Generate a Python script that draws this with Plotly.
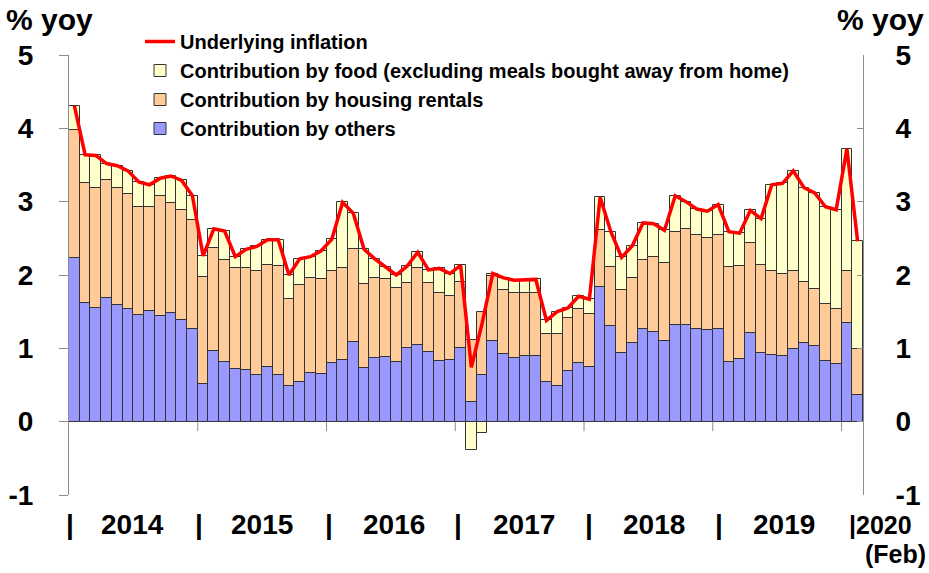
import plotly.graph_objects as go

# Monthly data, Jan 2014 .. Feb 2020 (74 months), % yoy contributions
others = [2.23, 1.62, 1.55, 1.68, 1.59, 1.54, 1.46, 1.51, 1.44, 1.48, 1.38, 1.26,
          0.52, 0.97, 0.82, 0.72, 0.70, 0.64, 0.74, 0.64, 0.48, 0.54, 0.66, 0.65,
          0.80, 0.84, 1.09, 0.73, 0.87, 0.88, 0.81, 1.01, 1.05, 0.95, 0.83, 0.84,
          1.00, 0.27, 0.64, 1.10, 0.92, 0.87, 0.89, 0.89, 0.54, 0.48, 0.69, 0.80,
          0.75, 1.84, 1.31, 0.94, 1.07, 1.26, 1.22, 1.10, 1.32, 1.32, 1.26, 1.25,
          1.26, 0.81, 0.85, 1.21, 0.93, 0.91, 0.90, 0.99, 1.07, 1.03, 0.83, 0.79,
          1.35, 0.37]
housing = [1.75, 1.63, 1.63, 1.61, 1.59, 1.56, 1.47, 1.42, 1.64, 1.50, 1.50, 1.49,
           1.45, 1.40, 1.38, 1.38, 1.40, 1.41, 1.40, 1.48, 1.19, 1.32, 1.30, 1.29,
           1.26, 1.26, 1.26, 1.15, 1.09, 1.06, 1.01, 0.88, 1.04, 0.94, 0.93, 0.88,
           0.91, 0.85, 0.86, 0.89, 0.87, 0.88, 0.86, 0.87, 0.66, 0.71, 0.73, 0.74,
           0.72, 0.77, 0.80, 0.85, 0.89, 0.95, 1.02, 1.06, 1.27, 1.31, 1.29, 1.26,
           1.29, 1.30, 1.27, 1.22, 1.20, 1.14, 1.11, 1.06, 0.83, 0.78, 0.77, 0.74,
           0.70, 0.62]
food = [0.33, 0.39, 0.45, 0.23, 0.31, 0.32, 0.34, 0.30, 0.24, 0.37, 0.41, 0.33,
        0.29, 0.26, 0.40, 0.15, 0.25, 0.34, 0.34, 0.36, 0.33, 0.36, 0.29, 0.39,
        0.43, 0.89, 0.49, 0.47, 0.26, 0.17, 0.18, 0.23, 0.22, 0.18, 0.33, 0.30,
        0.22, -0.38, -0.16, 0.03, 0.17, 0.18, 0.18, 0.18, 0.18, 0.31, 0.13, 0.17,
        0.20, 0.45, 0.48, 0.45, 0.44, 0.50, 0.46, 0.45, 0.49, 0.37, 0.35, 0.36,
        0.41, 0.48, 0.45, 0.45, 0.64, 1.18, 1.24, 1.37, 1.29, 1.31, 1.33, 1.36,
        1.67, 1.47]
underlying = [4.31, 3.64, 3.63, 3.52, 3.49, 3.42, 3.27, 3.23, 3.32, 3.35, 3.29, 3.08,
              2.26, 2.63, 2.60, 2.25, 2.35, 2.39, 2.48, 2.48, 2.00, 2.22, 2.25, 2.33,
              2.49, 2.99, 2.84, 2.35, 2.22, 2.11, 2.00, 2.12, 2.31, 2.07, 2.09, 2.02,
              2.13, 0.74, 1.34, 2.02, 1.96, 1.93, 1.93, 1.94, 1.38, 1.50, 1.55, 1.71,
              1.67, 3.06, 2.59, 2.24, 2.40, 2.71, 2.70, 2.61, 3.08, 3.00, 2.90, 2.87,
              2.96, 2.59, 2.57, 2.88, 2.77, 3.23, 3.25, 3.42, 3.19, 3.12, 2.93, 2.89,
              3.72, 2.46]
months = list(range(len(underlying)))
year_labels = ["2014", "2015", "2016", "2017", "2018", "2019"]
last_label = "|2020"
last_sub = "(Feb)"
y_ticks = [-1, 0, 1, 2, 3, 4, 5]
y_tick_text = ["-1", "0", "1", "2", "3", "4", "5"]

FONT = "Liberation Sans, Arial, sans-serif"
AXC = "#8c8c8c"
OUT = "#333333"
W, H = 929, 573
L, R, T, B = 69, 66, 55, 78
PW, PH = W - L - R, H - T - B


def px_x(p):
    return (p - L) / PW


def px_y(p):
    return (H - B - p) / PH


fig = go.Figure()
fig.add_trace(go.Bar(x=months, y=others, name="Contribution by others",
                     marker=dict(color="#9999FF", line=dict(color=OUT, width=1)),
                     legendrank=4))
fig.add_trace(go.Bar(x=months, y=housing, name="Contribution by housing rentals",
                     marker=dict(color="#FFCC99", line=dict(color=OUT, width=1)),
                     legendrank=3))
fig.add_trace(go.Bar(x=months, y=food,
                     name="Contribution by food (excluding meals bought away from home)",
                     marker=dict(color="#FFFFCC", line=dict(color=OUT, width=1)),
                     legendrank=2))
fig.add_trace(go.Scatter(x=months, y=underlying, name="Underlying inflation",
                         mode="lines", line=dict(color="#FF0000", width=3.5),
                         legendrank=1))
# invisible helper trace so the right-hand axis is drawn
fig.add_trace(go.Scatter(x=months, y=underlying, yaxis="y2", mode="lines",
                         line=dict(width=0), opacity=0, showlegend=False,
                         hoverinfo="skip"))

# year boundary tick marks below zero
shapes = []
for k in range(1, 7):
    xb = 12 * k - 0.5
    shapes.append(dict(type="line", xref="x", yref="y", x0=xb, x1=xb, y0=0, y1=-0.13,
                       line=dict(color=AXC, width=1)))

lab_font = dict(family=FONT, size=28, color="black", weight="bold")
end_font = dict(family=FONT, size=25, color="black", weight="bold")
unit_font = dict(family=FONT, size=30, color="black", weight="bold")
annotations = []
year_px = [132, 262, 394, 524, 654, 784]
sep_px = [70, 199, 329, 458, 589, 719]
ROW1, ROW2 = 524, 554
for p, t in zip(year_px, year_labels):
    annotations.append(dict(x=px_x(p), y=px_y(ROW1), xref="paper", yref="paper", text=t,
                            showarrow=False, font=lab_font, xanchor="center",
                            yanchor="middle"))
for p in sep_px:
    annotations.append(dict(x=px_x(p), y=px_y(ROW1), xref="paper", yref="paper", text="|",
                            showarrow=False, font=lab_font, xanchor="center",
                            yanchor="middle"))
annotations.append(dict(x=px_x(847), y=px_y(ROW1 + 1), xref="paper", yref="paper",
                        text=last_label, showarrow=False, font=end_font,
                        xanchor="left", yanchor="middle"))
annotations.append(dict(x=px_x(928), y=px_y(ROW2), xref="paper", yref="paper",
                        text=last_sub, showarrow=False, font=end_font,
                        xanchor="right", yanchor="middle"))
annotations.append(dict(x=px_x(4), y=px_y(20), xref="paper", yref="paper", text="% yoy",
                        showarrow=False, font=unit_font, xanchor="left", yanchor="middle"))
annotations.append(dict(x=px_x(926), y=px_y(20), xref="paper", yref="paper", text="% yoy",
                        showarrow=False, font=unit_font, xanchor="right", yanchor="middle"))

tick_font = dict(family=FONT, size=28, color="black", weight="bold")
fig.update_layout(
    width=W, height=H,
    margin=dict(l=L, r=R, t=T, b=B, autoexpand=False),
    paper_bgcolor="white", plot_bgcolor="white",
    barmode="relative", bargap=0,
    shapes=shapes,
    annotations=annotations,
    showlegend=True,
    legend=dict(x=px_x(140), y=px_y(22), xanchor="left", yanchor="top",
                traceorder="normal", bgcolor="rgba(0,0,0,0)",
                font=dict(family=FONT, size=20, color="black", weight="bold"),
                tracegroupgap=0, itemwidth=30),
    xaxis=dict(range=[-0.5, 73.5], showticklabels=False, showline=False,
               ticks="", showgrid=False, zeroline=False),
    yaxis=dict(range=[-1, 5], tickvals=y_ticks, ticktext=y_tick_text,
               showline=True, linecolor=AXC, linewidth=1,
               ticks="outside", ticklen=9, tickcolor=AXC, showgrid=False,
               zeroline=True, zerolinecolor=AXC, zerolinewidth=1,
               tickfont=tick_font, ticklabelstandoff=20),
    yaxis2=dict(range=[-1, 5], tickvals=y_ticks, ticktext=y_tick_text,
                overlaying="y", side="right", showline=True,
                linecolor=AXC, linewidth=1, ticks="inside", ticklen=6, tickcolor=AXC,
                showgrid=False, zeroline=False, tickfont=tick_font,
                ticklabelstandoff=26),
)

fig.write_html("out.html", config={"displayModeBar": False},
               post_script="document.body.style.margin='0';document.body.style.overflow='hidden';")
